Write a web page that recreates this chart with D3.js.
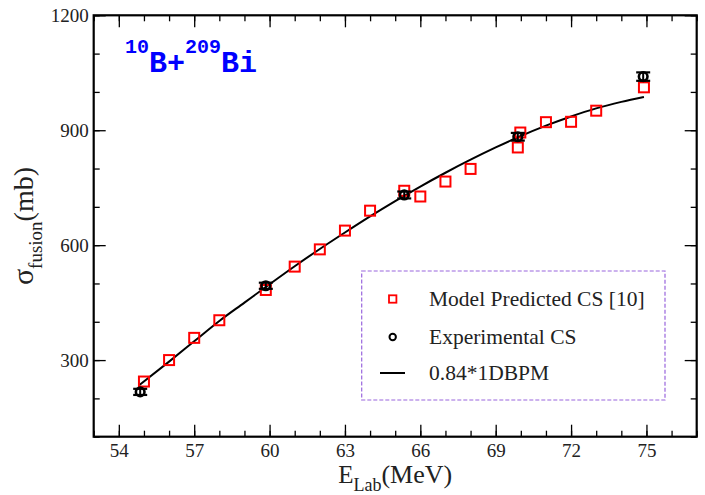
<!DOCTYPE html>
<html>
<head>
<meta charset="utf-8">
<script src="https://cdn.jsdelivr.net/npm/d3@7"></script>
<style>
  body { margin: 0; background: #fff; }
  svg { display: block; }
</style>
</head>
<body>
<div id="chart"></div>
<script>
// model predicted cross sections (red squares)
var modelE  = [55, 56, 57, 58, 59.85, 61, 62, 63, 64, 65.36, 66, 67, 68, 69.88, 69.98, 71, 72, 73, 74.9];
var modelCS = [244, 300, 358, 404, 483, 544, 589, 638, 690, 742, 727, 766, 799, 855, 894, 921, 922, 951, 1012];

// experimental points with errors
var expE   = [54.85, 59.85, 65.36, 69.88, 74.87];
var expCS  = [217, 494, 731, 883, 1040];
var expErr = [8, 8, 9, 10, 11];

// 0.84*1DBPM curve
var bpmE  = [54.82, 56, 57, 58, 59, 60, 61, 62, 63, 64, 65, 66, 67, 68, 69, 70, 71, 72, 73, 74, 74.9];
var bpmCS = [235, 296, 349, 402, 450, 498, 545, 590, 633, 675, 715, 753, 789, 823, 855, 885, 912, 936, 957, 974, 987];

var xMajor = [54, 57, 60, 63, 66, 69, 72, 75];
var yMajor = [300, 600, 900, 1200];
var legendLabels = ["Model Predicted CS [10]", "Experimental CS", "0.84*1DBPM"];

var W = 705, H = 495;
var margin = {top: 15.3, right: 8.3, bottom: 58.3, left: 93.7};

var svg = d3.select("#chart").append("svg")
    .attr("width", W).attr("height", H);

var x = d3.scaleLinear().domain([53, 77]).range([margin.left, W - margin.right]);
var y = d3.scaleLinear().domain([100, 1200]).range([H - margin.bottom, margin.top]);

var serif = "'Liberation Serif', 'Times New Roman', serif";
var minorX = d3.range(53, 78, 1);
var minorY = d3.range(100, 1201, 100);

function styleAxis(g) {
    g.select(".domain").remove();
    g.selectAll(".tick line").attr("stroke", "#000").attr("stroke-width", 1.3);
    g.selectAll("text").style("font-family", serif).style("font-size", "19px").attr("fill", "#222");
}

// bottom axis
svg.append("g").attr("transform", "translate(0," + y.range()[0] + ")")
    .call(d3.axisBottom(x).tickValues(minorX).tickSize(-6).tickFormat(""))
    .call(styleAxis);
svg.append("g").attr("transform", "translate(0," + y.range()[0] + ")")
    .call(d3.axisBottom(x).tickValues(xMajor).tickSize(-12).tickPadding(7).tickFormat(d3.format("d")))
    .call(styleAxis);
// top axis
svg.append("g").attr("transform", "translate(0," + y.range()[1] + ")")
    .call(d3.axisTop(x).tickValues(minorX).tickSize(-6).tickFormat(""))
    .call(styleAxis);
svg.append("g").attr("transform", "translate(0," + y.range()[1] + ")")
    .call(d3.axisTop(x).tickValues(xMajor).tickSize(-12).tickFormat(""))
    .call(styleAxis);
// left axis
svg.append("g").attr("transform", "translate(" + x.range()[0] + ",0)")
    .call(d3.axisLeft(y).tickValues(minorY).tickSize(-6).tickFormat(""))
    .call(styleAxis);
svg.append("g").attr("transform", "translate(" + x.range()[0] + ",0)")
    .call(d3.axisLeft(y).tickValues(yMajor).tickSize(-12).tickPadding(5).tickFormat(d3.format("d")))
    .call(styleAxis);
// right axis
svg.append("g").attr("transform", "translate(" + x.range()[1] + ",0)")
    .call(d3.axisRight(y).tickValues(minorY).tickSize(-6).tickFormat(""))
    .call(styleAxis);
svg.append("g").attr("transform", "translate(" + x.range()[1] + ",0)")
    .call(d3.axisRight(y).tickValues(yMajor).tickSize(-12).tickFormat(""))
    .call(styleAxis);

// frame
svg.append("rect")
    .attr("x", x.range()[0]).attr("y", y.range()[1])
    .attr("width", x.range()[1] - x.range()[0])
    .attr("height", y.range()[0] - y.range()[1])
    .attr("fill", "none").attr("stroke", "#000").attr("stroke-width", 2.2);

// curve
var line = d3.line().x(function(d) { return x(d[0]); }).y(function(d) { return y(d[1]); })
    .curve(d3.curveMonotoneX);
svg.append("path")
    .datum(d3.zip(bpmE, bpmCS))
    .attr("d", line)
    .attr("fill", "none").attr("stroke", "#000").attr("stroke-width", 2);

// model squares
svg.selectAll(".model")
    .data(d3.zip(modelE, modelCS))
    .enter().append("rect")
    .attr("class", "model")
    .attr("x", function(d) { return x(d[0]) - 5; })
    .attr("y", function(d) { return y(d[1]) - 5; })
    .attr("width", 10).attr("height", 10)
    .attr("fill", "none").attr("stroke", "#ff0000").attr("stroke-width", 2);

// experimental points + error bars
var exp = svg.selectAll(".exp")
    .data(d3.zip(expE, expCS, expErr))
    .enter().append("g").attr("class", "exp");
exp.append("line")
    .attr("x1", function(d) { return x(d[0]); }).attr("x2", function(d) { return x(d[0]); })
    .attr("y1", function(d) { return y(d[1] - d[2]); }).attr("y2", function(d) { return y(d[1] + d[2]); })
    .attr("stroke", "#000").attr("stroke-width", 2);
exp.selectAll(".cap")
    .data(function(d) { return [[d[0], d[1] - d[2]], [d[0], d[1] + d[2]]]; })
    .enter().append("line")
    .attr("x1", function(d) { return x(d[0]) - 7; }).attr("x2", function(d) { return x(d[0]) + 7; })
    .attr("y1", function(d) { return y(d[1]); }).attr("y2", function(d) { return y(d[1]); })
    .attr("stroke", "#000").attr("stroke-width", 2.2);
exp.append("circle")
    .attr("cx", function(d) { return x(d[0]); })
    .attr("cy", function(d) { return y(d[1]); })
    .attr("r", 4.3)
    .attr("fill", "none").attr("stroke", "#000").attr("stroke-width", 2.6);

// reaction label
var lab = svg.append("text")
    .attr("x", 125).attr("y", 72)
    .style("font-family", "'Liberation Mono', 'Courier New', monospace")
    .style("font-weight", "bold")
    .attr("fill", "#0000ff");
lab.append("tspan").attr("dy", -19).style("font-size", "20px").text("10");
lab.append("tspan").attr("dy", 19).style("font-size", "30px").text("B+");
lab.append("tspan").attr("dy", -19).style("font-size", "20px").text("209");
lab.append("tspan").attr("dy", 19).style("font-size", "30px").text("Bi");

// legend
var lg = svg.append("g");
lg.append("rect")
    .attr("x", 361.7).attr("y", 271).attr("width", 303.3).attr("height", 129)
    .attr("fill", "none").attr("stroke", "#9966dd").attr("stroke-width", 1.2)
    .attr("stroke-dasharray", "4,2");
var rowY = [299, 337, 373];
lg.append("rect").attr("x", 389).attr("y", rowY[0] - 3.7).attr("width", 7.4).attr("height", 7.4)
    .attr("fill", "none").attr("stroke", "#ff0000").attr("stroke-width", 1.8);
lg.append("circle").attr("cx", 392.7).attr("cy", rowY[1]).attr("r", 3.2)
    .attr("fill", "none").attr("stroke", "#000").attr("stroke-width", 2);
lg.append("line").attr("x1", 380).attr("x2", 405).attr("y1", rowY[2]).attr("y2", rowY[2])
    .attr("stroke", "#000").attr("stroke-width", 2);
lg.selectAll(".ltext").data(legendLabels).enter().append("text")
    .attr("x", 429).attr("y", function(d, i) { return rowY[i] + 7; })
    .style("font-family", serif).style("font-size", "21.5px").attr("fill", "#222")
    .text(function(d) { return d; });

// axis titles
var xt = svg.append("text")
    .attr("x", (x.range()[0] + x.range()[1]) / 2).attr("y", 483)
    .attr("text-anchor", "middle")
    .style("font-family", serif).attr("fill", "#222");
xt.append("tspan").style("font-size", "25px").text("E");
xt.append("tspan").style("font-size", "18px").attr("dy", 8).text("Lab");
xt.append("tspan").style("font-size", "26px").attr("dy", -8).text("(MeV)");

var yt = svg.append("text")
    .attr("transform", "translate(33," + ((y.range()[0] + y.range()[1]) / 2) + ") rotate(-90)")
    .attr("text-anchor", "middle")
    .style("font-family", serif).attr("fill", "#222");
yt.append("tspan").style("font-size", "30px").text("σ");
yt.append("tspan").style("font-size", "19px").attr("dy", 9).text("fusion");
yt.append("tspan").style("font-size", "28px").attr("dy", -9).text("(mb)");
</script>
</body>
</html>
